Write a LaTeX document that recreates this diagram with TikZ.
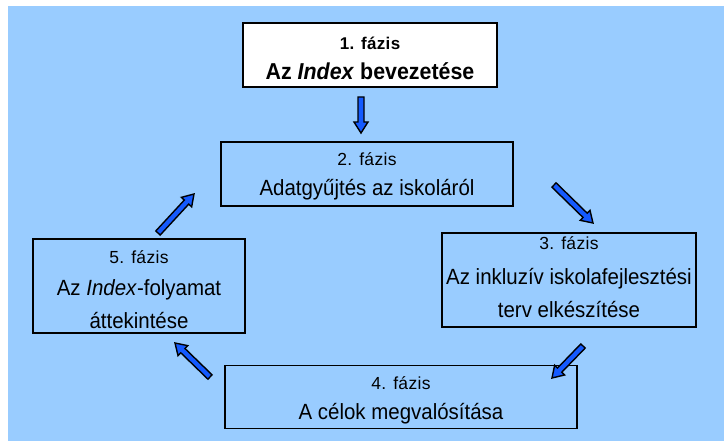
\documentclass[tikz,border=0pt]{standalone}
\usepackage{fontspec}
\setmainfont{Liberation Sans}
\newfontfamily\titlefont[FakeStretch=0.93]{Liberation Sans}
\newfontfamily\phasefont[LetterSpace=2]{Liberation Sans}
\usetikzlibrary{calc}
\definecolor{skyback}{RGB}{153,204,255}
\definecolor{arrowblue}{RGB}{20,90,255}
\tikzset{
  x=1pt, y=-1pt,
  phasebox/.style={draw=black, line width=1.6pt, minimum width=#1, inner sep=0pt},
  phasebox/.default=100pt,
  phaselbl/.style={anchor=base, inner sep=0pt, font=\phasefont\fontsize{17.5}{21}\selectfont},
  titlelbl/.style={anchor=base, inner sep=0pt, font=\titlefont\fontsize{22}{26}\selectfont},
  blockarrow/.style={draw=black, fill=arrowblue, line width=1.4pt, line join=miter},
}
% block arrow from coordinate #1 to coordinate #2
\newcommand\fatarrow[2]{%
  \path[blockarrow] let \p1=(#1), \p2=(#2),
      \n1={atan2(\y2-\y1,\x2-\x1)}, \n2={veclen(\x2-\x1,\y2-\y1)} in
    ([shift={(\p1)},rotate=\n1]0pt,-3pt)
    -- ([shift={(\p1)},rotate=\n1]{\n2*1pt-11pt},-3pt)
    -- ([shift={(\p1)},rotate=\n1]{\n2*1pt-11pt},-7pt)
    -- ([shift={(\p1)},rotate=\n1]{\n2*1pt},0pt)
    -- ([shift={(\p1)},rotate=\n1]{\n2*1pt-11pt},7pt)
    -- ([shift={(\p1)},rotate=\n1]{\n2*1pt-11pt},3pt)
    -- ([shift={(\p1)},rotate=\n1]0pt,3pt) -- cycle;}
\begin{document}
\begin{tikzpicture}
\useasboundingbox (0,0) rectangle (724,441);
\fill[skyback] (8,6) rectangle (724,441);

% phase boxes
\node[phasebox=254pt, minimum height=64pt, fill=white] (p1) at (370,55) {};
\node[phasebox=292pt, minimum height=64pt] (p2) at (367,174) {};
\node[phasebox=254pt, minimum height=94pt] (p3) at (569,280) {};
\node[phasebox=352pt, minimum height=63pt] (p4) at (401,397) {};
\node[phasebox=212pt, minimum height=94pt] (p5) at (139,286) {};

% texts
\node[phaselbl, font=\phasefont\bfseries\fontsize{17}{20}\selectfont] (t1a) at (370,50) {1. fázis};
\node[titlelbl, font=\titlefont\bfseries\fontsize{23}{27}\selectfont] (t1b) at (370,80) {Az \textit{Index} bevezetése};
\node[phaselbl] (t2a) at (367,166) {2. fázis};
\node[titlelbl] (t2b) at (367,196) {Adatgyűjtés az iskoláról};
\node[phaselbl] (t3a) at (569,250) {3. fázis};
\node[titlelbl] (t3b) at (569,284) {Az inkluzív iskolafejlesztési};
\node[titlelbl] (t3c) at (569,317) {terv elkészítése};
\node[phaselbl] (t4a) at (401,389) {4. fázis};
\node[titlelbl] (t4b) at (401,419) {A célok megvalósítása};
\node[phaselbl] (t5a) at (139,264) {5. fázis};
\node[titlelbl] (t5b) at (139,296) {Az \textit{Index}-folyamat};
\node[titlelbl] (t5c) at (139,328) {áttekintése};

% arrow end points
\coordinate (a1s) at (361,97);  \coordinate (a1e) at (361,133);
\coordinate (a2s) at (554,185); \coordinate (a2e) at (593,223);
\coordinate (a3s) at (583,346); \coordinate (a3e) at (552,378);
\coordinate (a4s) at (210,377); \coordinate (a4e) at (175,343);
\coordinate (a5s) at (158,233); \coordinate (a5e) at (194,194);

\fatarrow{a1s}{a1e}
\fatarrow{a2s}{a2e}
\fatarrow{a3s}{a3e}
\fatarrow{a4s}{a4e}
\fatarrow{a5s}{a5e}
\end{tikzpicture}
\end{document}
